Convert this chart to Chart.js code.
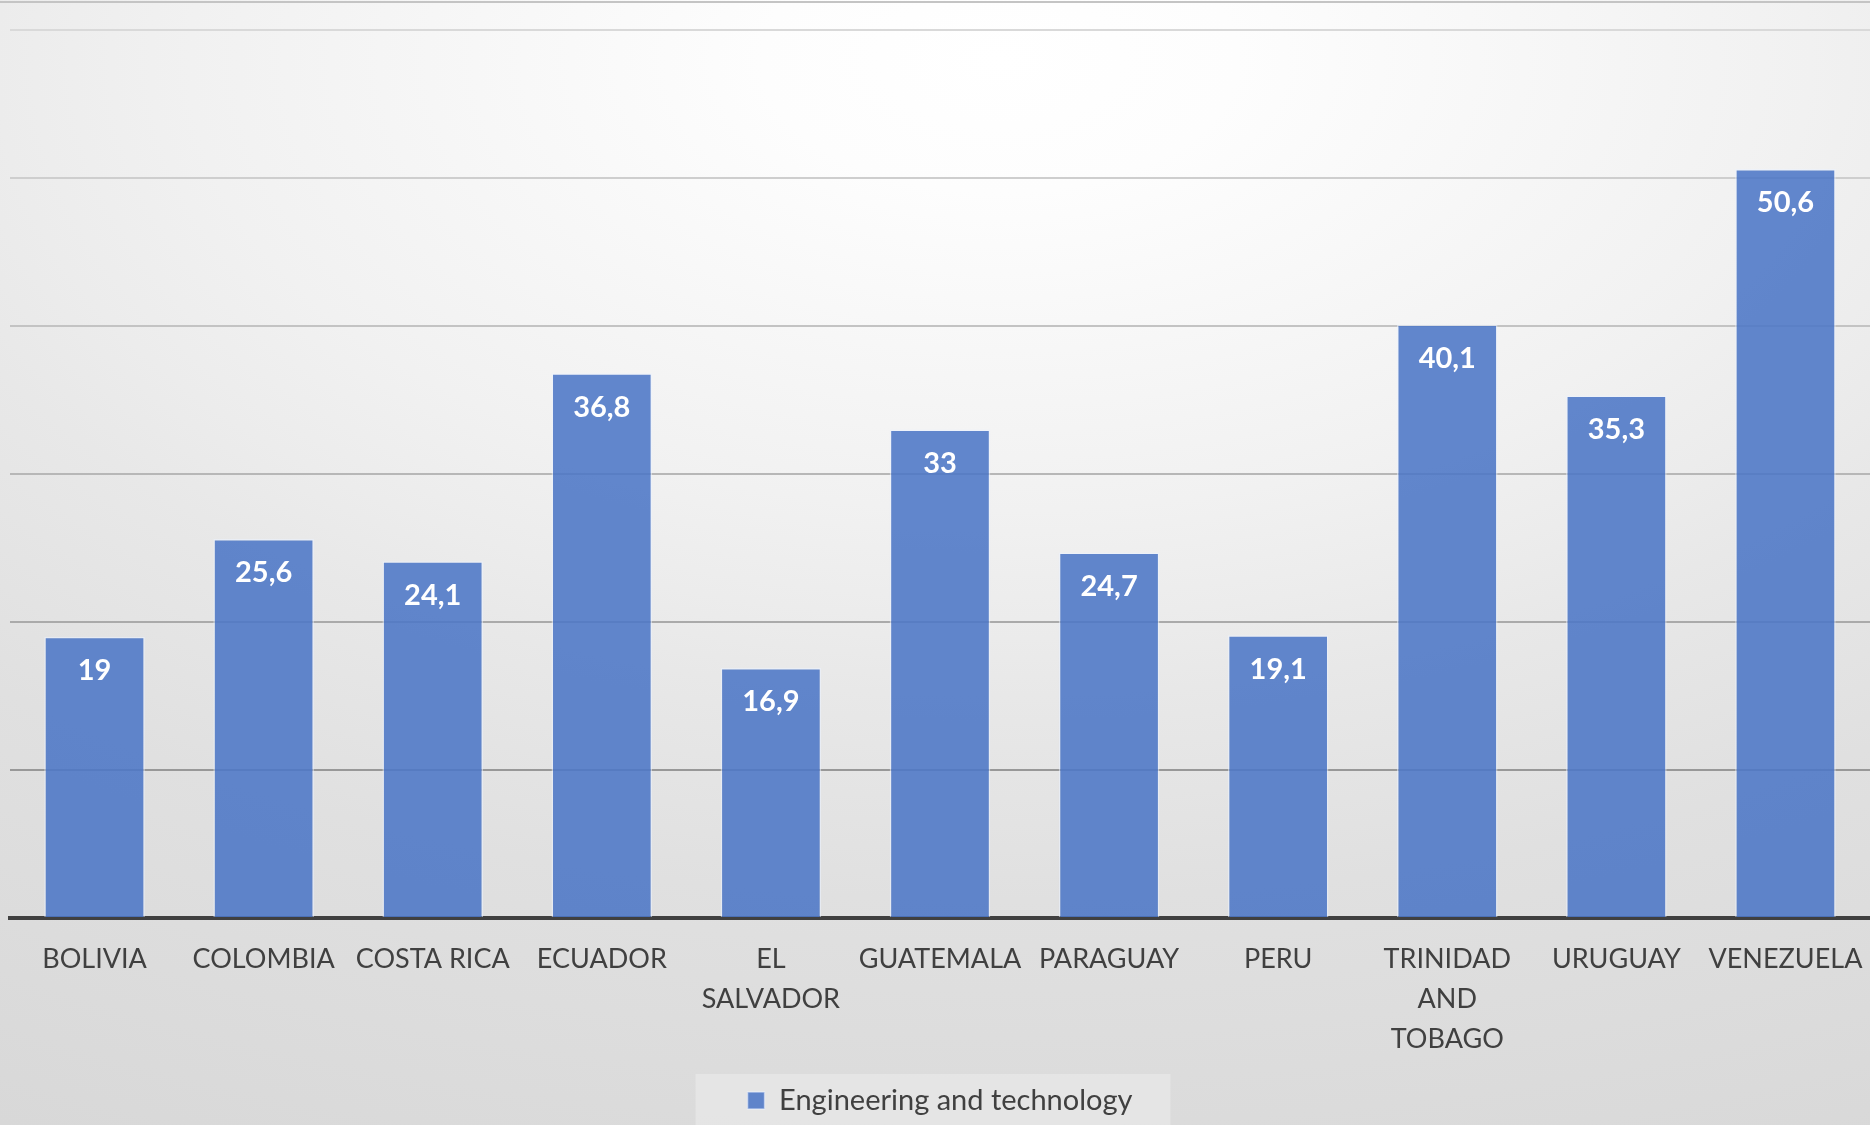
<!DOCTYPE html>
<html>
<head>
<meta charset="utf-8">
<script src="https://cdn.jsdelivr.net/npm/chart.js@4.4.1/dist/chart.umd.min.js"></script>
<style>
  html, body { margin: 0; padding: 0; background: #ffffff; }
  #wrap { width: 1870px; height: 1125px; }
  canvas { display: block; }
</style>
</head>
<body>
<div id="wrap"><canvas id="chart" width="1870" height="1125"></canvas></div>
<script>
// Share of graduates in engineering and technology, by country (%)
const countries = [
  'BOLIVIA', 'COLOMBIA', 'COSTA RICA', 'ECUADOR', ['EL', 'SALVADOR'],
  'GUATEMALA', 'PARAGUAY', 'PERU', ['TRINIDAD', 'AND', 'TOBAGO'],
  'URUGUAY', 'VENEZUELA'
];
const engineeringTech = [19, 25.6, 24.1, 36.8, 16.9, 33, 24.7, 19.1, 40.1, 35.3, 50.6];
const seriesName = 'Engineering and technology';
const yMin = 0;
const yMax = 60;
const yStep = 10;

const FONT = 'Lato, "Open Sans", "DejaVu Sans", sans-serif';
const TEXT_DARK = '#404040';

// gridlines fade from mid grey near the baseline to pale grey at the top
function gridColor(value) {
  const t = Math.max(0, Math.min(1, (value - yStep) / (yMax - yStep)));
  const lo = 152, hi = 217;
  const g = Math.round(lo + (hi - lo) * Math.pow(t, 0.8));
  return `rgb(${g},${g},${g})`;
}

// soft radial backdrop, the top border rule and the legend panel
const backdrop = {
  id: 'backdrop',
  beforeDraw(chart) {
    const { ctx, width, height } = chart;
    ctx.save();
    ctx.translate(1000, 60);
    ctx.scale(1.8, 1);
    const g = ctx.createRadialGradient(0, 0, 0, 0, 0, 1200);
    g.addColorStop(0.00, '#ffffff');
    g.addColorStop(0.11, '#fdfdfd');
    g.addColorStop(0.375, '#f1f1f1');
    g.addColorStop(0.465, '#ececec');
    g.addColorStop(0.53, '#e8e8e8');
    g.addColorStop(0.70, '#e0e0e0');
    g.addColorStop(1.00, '#d8d8d8');
    ctx.fillStyle = g;
    ctx.fillRect(-1000 / 1.8, -60, width / 1.8 + 10, height + 10);
    ctx.restore();

    ctx.save();
    ctx.fillStyle = '#c4c4c4';
    ctx.fillRect(0, 1, width, 2);

    const legend = chart.legend;
    if (legend && legend.legendHitBoxes && legend.legendHitBoxes.length) {
      const hb = legend.legendHitBoxes[0];
      const left = hb.left - 52;
      const right = hb.left + hb.width + 38;
      ctx.fillStyle = 'rgba(255,255,255,0.28)';
      ctx.fillRect(left, legend.top - 1, right - left, height - legend.top + 1);
    }
    ctx.restore();
  }
};

// value written in white near the top of each bar, with a decimal comma
const valueLabels = {
  id: 'valueLabels',
  afterDatasetsDraw(chart) {
    const { ctx } = chart;
    const meta = chart.getDatasetMeta(0);
    const data = chart.data.datasets[0].data;
    ctx.save();
    ctx.font = `bold 29px ${FONT}`;
    ctx.fillStyle = '#ffffff';
    ctx.textAlign = 'center';
    ctx.textBaseline = 'middle';
    meta.data.forEach((bar, i) => {
      const text = String(data[i]).replace('.', ',');
      ctx.fillText(text, bar.x, bar.y + 34);
    });
    ctx.restore();
  }
};

new Chart(document.getElementById('chart'), {
  type: 'bar',
  data: {
    labels: countries,
    datasets: [{
      label: seriesName,
      data: engineeringTech,
      backgroundColor: 'rgba(76,118,198,0.88)',
      borderColor: 'rgba(235,242,255,0.55)',
      borderWidth: 1.5,
      borderSkipped: 'start',
      barPercentage: 0.595,
      categoryPercentage: 1.0
    }]
  },
  options: {
    responsive: false,
    devicePixelRatio: 1,
    animation: false,
    layout: { padding: { left: 10, right: 0, top: 30, bottom: 0 } },
    plugins: {
      legend: {
        position: 'bottom',
        labels: {
          font: { family: FONT, size: 29 },
          color: TEXT_DARK,
          boxWidth: 17,
          boxHeight: 17,
          padding: 11
        }
      },
      tooltip: { enabled: false },
      title: { display: false }
    },
    scales: {
      x: {
        grid: { display: false, drawTicks: false },
        border: { display: true, color: '#404040', width: 4 },
        ticks: {
          autoSkip: false,
          maxRotation: 0,
          minRotation: 0,
          padding: 21,
          color: TEXT_DARK,
          font: { family: FONT, size: 27, lineHeight: 40 / 27 }
        },
        afterFit(scale) {
          scale.height = 157;
          scale.paddingLeft = 0;
          scale.paddingRight = 0;
        }
      },
      y: {
        min: yMin,
        max: yMax,
        ticks: { display: false, stepSize: yStep },
        border: { display: false },
        grid: {
          drawTicks: false,
          lineWidth: 2,
          color: (ctx) => gridColor(ctx.tick ? ctx.tick.value : 0)
        },
        afterFit(scale) {
          scale.width = 0;
          scale.paddingTop = 0;
          scale.paddingBottom = 0;
        }
      }
    }
  },
  plugins: [backdrop, valueLabels]
});
</script>
</body>
</html>
